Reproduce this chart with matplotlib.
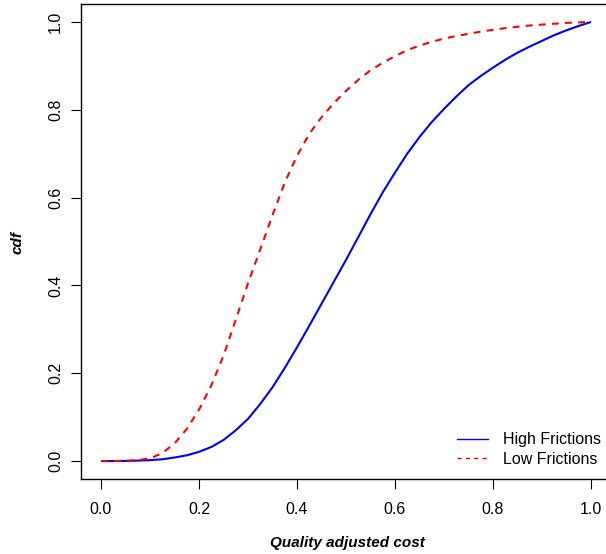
import matplotlib
matplotlib.use("Agg")
import matplotlib.pyplot as plt
from matplotlib.lines import Line2D

plt.rcParams['font.family'] = ['Liberation Sans', 'DejaVu Sans']

x_vals = [0.0, 0.025, 0.05, 0.075, 0.1, 0.125, 0.15, 0.175, 0.2, 0.225, 0.25,
          0.275, 0.3, 0.325, 0.35, 0.375, 0.4, 0.425, 0.45, 0.475, 0.5,
          0.525, 0.55, 0.575, 0.6, 0.625, 0.65, 0.675, 0.7, 0.725, 0.75,
          0.775, 0.8, 0.825, 0.85, 0.875, 0.9, 0.925, 0.95, 0.975, 1.0]
high_frictions = [0.0, 0.0, 0.0003, 0.001, 0.002, 0.004, 0.008, 0.013, 0.021, 0.032, 0.048,
                  0.070, 0.096, 0.130, 0.168, 0.212, 0.259, 0.308, 0.358, 0.408, 0.458,
                  0.510, 0.562, 0.612, 0.657, 0.700, 0.738, 0.772, 0.802, 0.830, 0.856,
                  0.877, 0.896, 0.914, 0.930, 0.944, 0.957, 0.970, 0.981, 0.991, 1.0]
low_frictions = [0.0, 0.0, 0.0005, 0.002, 0.006, 0.018, 0.040, 0.073, 0.117, 0.172, 0.240,
                 0.322, 0.405, 0.482, 0.560, 0.634, 0.695, 0.745, 0.783, 0.815, 0.843,
                 0.868, 0.890, 0.907, 0.922, 0.936, 0.946, 0.955, 0.962, 0.968, 0.973,
                 0.978, 0.982, 0.986, 0.989, 0.992, 0.994, 0.996, 0.998, 0.999, 1.0]
tick_vals = [0.0, 0.2, 0.4, 0.6, 0.8, 1.0]
tick_labels = ["0.0", "0.2", "0.4", "0.6", "0.8", "1.0"]

W, H = 606, 554
fig = plt.figure(figsize=(W / 100, H / 100), dpi=100)
left, right, top, bottom = 81.4, 610.6, 4.4, 478.6
ax = fig.add_axes([left / W, (H - bottom) / H, (right - left) / W, (bottom - top) / H])

ax.plot(x_vals, high_frictions, color='#0000ff', lw=1.5, solid_capstyle='butt')
ax.plot(x_vals, low_frictions, color='#ff0000', lw=1.5, linestyle=(0, (3.3, 3.0)))

ax.set_xlim(-0.04, 1.04)
ax.set_ylim(-0.04, 1.04)
ax.set_xticks(tick_vals)
ax.set_xticklabels(tick_labels)
ax.set_yticks(tick_vals)
ax.set_yticklabels(tick_labels, rotation=90, va='center')
ax.tick_params(axis='both', length=7.2, width=0.8, labelsize=11.5, color='black')
ax.tick_params(axis='x', pad=9.5)
ax.tick_params(axis='y', pad=6)
for s in ax.spines.values():
    s.set_linewidth(1.0)
    s.set_color('black')

fig.text(347 / W, 1 - 543 / H, "Quality adjusted cost",
         ha='center', va='center', fontsize=11, fontweight='bold', fontstyle='italic')
fig.text(18 / W, 1 - 242 / H, "cdf", ha='center', va='center', rotation=90,
         fontsize=11, fontweight='bold', fontstyle='italic')

handles = [Line2D([], [], color='#0000ff', lw=1.0),
           Line2D([], [], color='#ff0000', lw=1.0, linestyle=(0, (3, 3)))]
leg = ax.legend(handles, ["High Frictions", "Low Frictions"], loc='lower right',
                bbox_to_anchor=(601 / W, 1 - 467 / H), bbox_transform=fig.transFigure,
                frameon=False, fontsize=11.5, handlelength=1.95, handletextpad=0.95,
                borderpad=0, borderaxespad=0, labelspacing=0.3)

fig.savefig("out.png", dpi=100)
